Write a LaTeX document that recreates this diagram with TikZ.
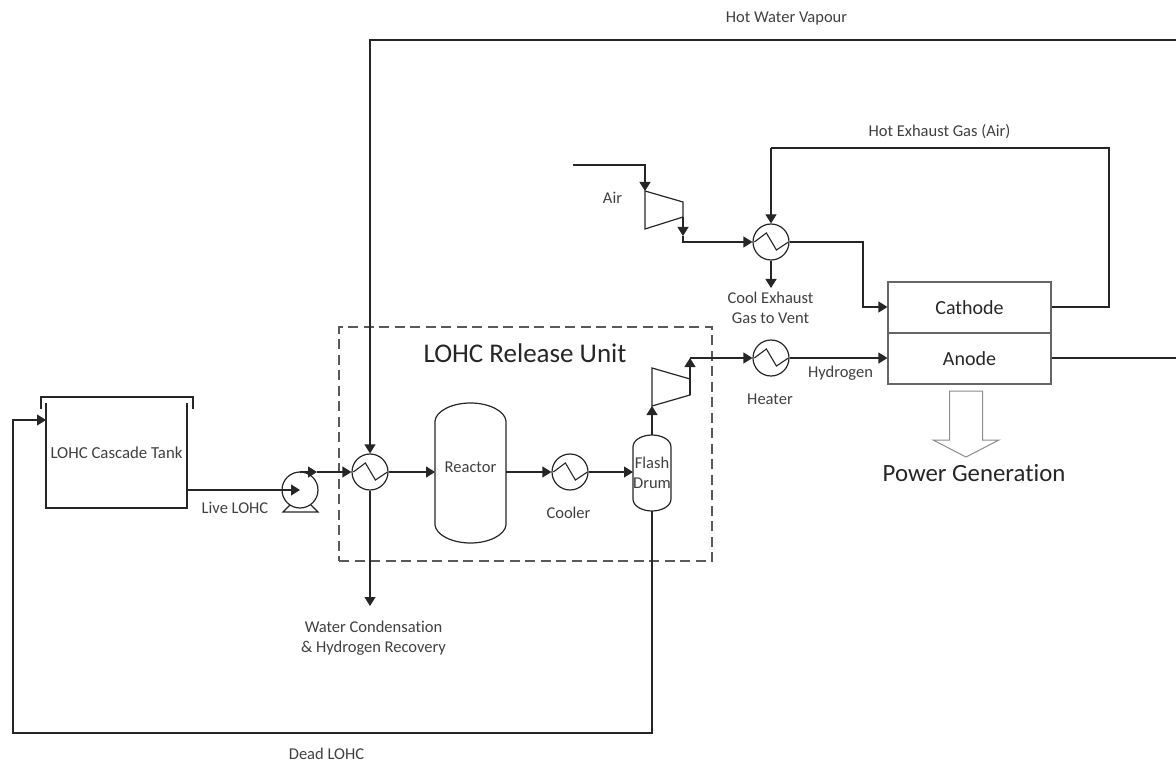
\documentclass[tikz,border=0pt]{standalone}
\usepackage{fontspec}
\setmainfont{Carlito}[Ligatures=NoCommon]
\usetikzlibrary{arrows.meta}
\definecolor{ink}{HTML}{262626}
\definecolor{txt}{HTML}{404040}
\tikzset{
  x=1pt,y=-1pt,
  lineflow/.style={draw=ink,line width=1.2pt,line join=miter},
  flow/.style={lineflow,-{Triangle[length=9pt,width=11pt]}},
  equip/.style={draw=ink,line width=1.2pt},
  hxer/.style={circle,equip,minimum size=36pt,inner sep=0pt},
  anchorbox/.style={inner sep=0pt,outer sep=0pt},
  lbl/.style={text=txt,font=\fontsize{16.5}{20}\selectfont,align=center,inner sep=0pt},
  biglbl/.style={text=ink,inner sep=0pt},
  cell/.style={draw=black!60,line width=1.1pt,minimum width=163pt,minimum height=51pt,inner sep=0pt,text=ink,font=\fontsize{20}{24}\selectfont},
}
\newcommand{\zigzag}[1]{\draw[equip,line width=1.1pt] (#1.west) ++(2,0) -- ++(12,-9) -- ++(10,17) -- ++(12,-8);}
\begin{document}
\begin{tikzpicture}
\useasboundingbox (0,0) rectangle (1176,762);

% dashed envelope
\node[anchorbox,draw=black!65,line width=1.3pt,dash pattern=on 10pt off 5.5pt,minimum width=373pt,minimum height=234pt] (unit) at (525.5,444) {};
\node[biglbl,font=\fontsize{27}{32}\selectfont] (unitlbl) at (525,353) {LOHC Release Unit};

% tank
\node[anchorbox,minimum width=141pt,minimum height=105pt] (tank) at (116.5,455.5) {};
\draw[equip] (tank.north west) -- (tank.south west) -- (tank.south east) -- (tank.north east);
\draw[equip] (41,409) -- (41,397) -- (193,397) -- (193,409);
\node[lbl,font=\fontsize{16.8}{20}\selectfont] (tanklbl) at (116.5,453) {LOHC Cascade Tank};

% pump
\node[hxer] (pump) at (300,490) {};
\draw[equip] (290,505) -- (283,512) -- (318,512) -- (311,505);

% heat exchangers
\node[hxer] (hxa) at (370,472) {}; \zigzag{hxa}
\node[hxer] (cooler) at (570,472) {}; \zigzag{cooler}
\node[hxer] (heater) at (771,358) {}; \zigzag{heater}
\node[hxer] (hxb) at (771,242) {}; \zigzag{hxb}

% reactor
\node[anchorbox,minimum width=71pt,minimum height=140pt] (reactor) at (470.5,473) {};
\draw[equip] (435,421) .. controls (436,411) and (452,403) .. (470.5,403)
  .. controls (489,403) and (505,411) .. (506,421) -- (506,525)
  .. controls (505,535) and (489,543) .. (470.5,543)
  .. controls (452,543) and (436,535) .. (435,525) -- cycle;
\node[lbl] (reactorlbl) at (470.5,467) {Reactor};

% flash drum
\node[anchorbox,minimum width=38pt,minimum height=76pt] (drum) at (652,473) {};
\draw[equip] (633,447) .. controls (633,440) and (642,435) .. (652,435)
  .. controls (662,435) and (671,440) .. (671,447) -- (671,499)
  .. controls (671,506) and (662,511) .. (652,511)
  .. controls (642,511) and (633,506) .. (633,499) -- cycle;
\node[lbl] (drumlbl) at (652,473) {Flash\\Drum};

% compressors
\coordinate (ca) at (645,191); \coordinate (cb) at (683,202);
\coordinate (cc) at (683,217); \coordinate (cd) at (645,229);
\draw[equip] (ca) -- (cb) -- (cc) -- (cd) -- cycle;
\coordinate (da) at (652,368); \coordinate (db) at (690,379);
\coordinate (dc) at (690,395); \coordinate (dd) at (652,406);
\draw[equip] (da) -- (db) -- (dc) -- (dd) -- cycle;

% fuel cell
\node[cell] (cathode) at (969.5,307.5) {Cathode};
\node[cell] (anode) at (969.5,358.5) {Anode};

% power arrow
\draw[draw=black!45,line width=1pt] (949.5,391) -- (982.5,391) -- (982.5,440) -- (999,440) -- (966,457) -- (933,440) -- (949.5,440) -- cycle;
\node[biglbl,font=\fontsize{24.8}{30}\selectfont] (powerlbl) at (974,473) {Power Generation};

% coordinates of free ends and bends
\coordinate (topright) at (1176,40);
\coordinate (topleft) at (370,40);
\coordinate (anodeout) at (1176,358);
\coordinate (wateroutend) at (370,606);
\coordinate (deadb) at (652,733);
\coordinate (deadc) at (13,733);
\coordinate (deadd) at (13,420);
\coordinate (tankin) at (46,420);
\coordinate (tankout) at (187,490);
\coordinate (pumptop) at (300,472);
\coordinate (pumptip) at (317,472);
\coordinate (airstart) at (573,165);
\coordinate (airbend) at (645,165);
\coordinate (catip) at (683,236);
\coordinate (datip) at (690,358);
\coordinate (hxbbend) at (863,242);
\coordinate (cathin) at (863,307);
\coordinate (exhausta) at (1109,307);
\coordinate (exhaustb) at (1109,148);
\coordinate (exhaustc) at (771,148);
\coordinate (ventend) at (771,288);

% connectors
\draw[lineflow] (tankout) -- (pump.west);
\draw[flow] (pump.west) -- (pump.center);
\draw[flow] (pumptop) -- (pumptip);
\draw[flow] (pumptip) -- (hxa.west);
\draw[flow] (topright) -- (topleft) -- (hxa.north);
\draw[flow] (hxa.south) -- (wateroutend);
\draw[flow] (hxa.east) -- (reactor.west |- hxa.east);
\draw[flow] (reactor.east |- cooler.west) -- (cooler.west);
\draw[flow] (cooler.east) -- (drum.west |- cooler.east);
\draw[flow] (drum.north) -- (dd);
\draw[lineflow] (dc) -- (db);
\draw[flow] (db) -- (datip);
\draw[flow] (datip) -- (heater.west);
\draw[flow] (heater.east) -- (anode.west |- heater.east);
\draw[lineflow] (anode.east |- anodeout) -- (anodeout);
\draw[flow] (airstart) -- (airbend) -- (ca);
\draw[flow] (cc) -- (catip);
\draw[flow] (catip) |- (hxb.west);
\draw[flow] (hxb.east) -- (hxbbend) -- (cathin) -- (cathode.west |- cathin);
\draw[lineflow] (cathode.east |- exhausta) -- (exhausta) -- (exhaustb) -- (exhaustc);
\draw[flow] (exhaustc) -- (hxb.north);
\draw[flow] (hxb.south) -- (ventend);
\draw[flow] (drum.south) -- (deadb) -- (deadc) -- (deadd) -- (tankin);

% labels
\node[lbl] (l1) at (786.5,18.5) {Hot Water Vapour};
\node[lbl] (l2) at (939.5,132) {Hot Exhaust Gas (Air)};
\node[lbl] (l3) at (612.5,198) {Air};
\node[lbl] (l4) at (770.5,307.5) {Cool Exhaust\\Gas to Vent};
\node[lbl] (l5) at (770,399) {Heater};
\node[lbl] (l6) at (840.5,373.5) {Hydrogen};
\node[lbl] (l7) at (235,508) {Live LOHC};
\node[lbl] (l8) at (568.5,513) {Cooler};
\node[lbl] (l9) at (373.5,638.5) {Water Condensation\\\& Hydrogen Recovery};
\node[lbl] (l10) at (326.5,754) {Dead LOHC};
\end{tikzpicture}
\end{document}
